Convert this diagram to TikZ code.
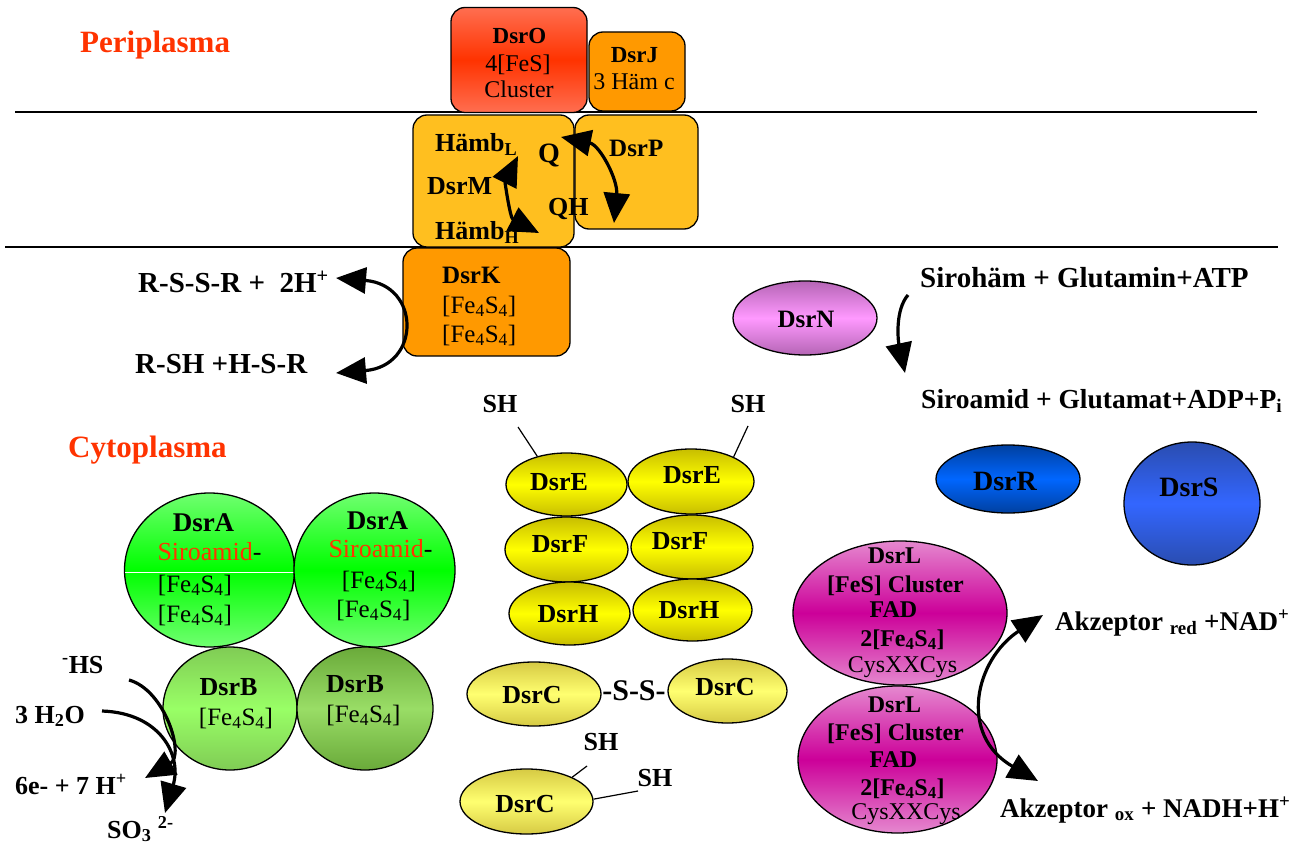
\documentclass[tikz,border=0pt]{standalone}
\usepackage{fontspec}
\setmainfont{Liberation Serif}
\usetikzlibrary{shapes.geometric,arrows.meta}
\definecolor{cred}{HTML}{FF3300}
\definecolor{oLight}{HTML}{FF6E50}
\definecolor{orng}{HTML}{FF9900}
\definecolor{gold}{HTML}{FFBF1F}
\definecolor{violetD}{HTML}{B565B5}
\definecolor{violetL}{HTML}{FF99FF}
\definecolor{yelD}{HTML}{C8BE00}
\definecolor{yelL}{HTML}{FFFF00}
\definecolor{olD}{HTML}{D6CA44}
\definecolor{olL}{HTML}{FFFF70}
\definecolor{blD}{HTML}{0040A0}
\definecolor{blL}{HTML}{0066FF}
\definecolor{bsD}{HTML}{2A4DB0}
\definecolor{bsL}{HTML}{3366FF}
\definecolor{mgD}{HTML}{CC0099}
\definecolor{mgL}{HTML}{E588CF}
\definecolor{grA}{HTML}{00FF00}
\definecolor{grAL}{HTML}{70FF70}
\definecolor{grBa}{HTML}{99FF66}
\definecolor{grBaD}{HTML}{80CC55}
\definecolor{grBb}{HTML}{99DD66}
\definecolor{grBbD}{HTML}{6AAA3A}
\newcommand{\myfs}[1]{\fontsize{#1}{#1}\selectfont}
\tikzset{
  box/.style={draw=black, line width=1.3pt, rounded corners=14pt, inner sep=0pt},
  ell/.style={draw=black, ellipse, line width=1.3pt, inner sep=0pt},
  lab/.style={inner sep=0pt, anchor=base},
  lw/.style={inner sep=0pt, anchor=base west},
  rxone/.style={line width=3.2pt, -{Triangle[length=30pt,width=26pt]}},
  rxtwo/.style={line width=3.2pt, {Triangle[length=30pt,width=26pt]}-{Triangle[length=30pt,width=26pt]}},
  memb/.style={line width=1.5pt},
  thinln/.style={line width=1.2pt},
  bfA/.style={font={\myfs{#1}\bfseries}},
  rgA/.style={font={\myfs{#1}}},
}
\begin{document}
\begin{tikzpicture}[x=1pt,y=-1pt]
\useasboundingbox (0,0) rectangle (1290,845);
\fill[white] (0,0) rectangle (1290,845);

% membranes
\coordinate (mAa) at (15,112); \coordinate (mAb) at (1257,112);
\coordinate (mBa) at (5,247); \coordinate (mBb) at (1278,247);
\draw[memb] (mAa) -- (mAb);
\draw[memb] (mBa) -- (mBb);

% compartment labels
\node[lw, text=cred, bfA=31] (peri) at (80,53) {Periplasma};
\node[lw, text=cred, bfA=31] (cyto) at (68,457) {Cytoplasma};

% membrane complex
\node[box, minimum width=136pt, minimum height=105pt, top color=oLight, bottom color=oLight, middle color=cred] (dsro) at (519,60) {};
\node[box, minimum width=96pt, minimum height=79pt, fill=orng] (dsrj) at (637,71.5) {};
\node[box, minimum width=161pt, minimum height=132pt, fill=gold] (dsrm) at (493.5,181) {};
\node[box, minimum width=123pt, minimum height=114pt, fill=gold] (dsrp) at (636.5,172) {};
\node[box, minimum width=167pt, minimum height=108pt, fill=orng] (dsrk) at (486.5,302) {};

\node[lab, bfA=23] (tOa) at (519.5,44) {DsrO};
\node[lab, rgA=24] (tOb) at (518,72) {4[FeS]};
\node[lab, rgA=24] (tOc) at (519,98) {Cluster};
\node[lab, bfA=23] (tJa) at (634.5,63) {DsrJ};
\node[lab, rgA=24] (tJb) at (634,90) {3 Häm c};
\node[lw, bfA=26] (tMa) at (435,152) {Hämb\textsubscript{L}};
\node[lab, bfA=28] (tQ) at (549,163) {Q};
\node[lw, bfA=26] (tMb) at (427,195) {DsrM};
\node[lw, bfA=26] (tQH) at (548,215) {QH};
\node[lw, bfA=26] (tMc) at (435,240) {Hämb\textsubscript{H}};
\node[lw, bfA=25] (tP) at (609,157) {DsrP};
\node[lw, bfA=25] (tKa) at (442,283) {DsrK};
\node[lw, rgA=25] (tKb) at (442,313) {[Fe\textsubscript{4}S\textsubscript{4}]};
\node[lw, rgA=25] (tKc) at (442,342) {[Fe\textsubscript{4}S\textsubscript{4}]};

\coordinate (ma) at (518,156); \coordinate (mb) at (539,233);
\draw[rxtwo] (ma) .. controls (505,182) and (510,218) .. (mb);
\coordinate (pa) at (561,137); \coordinate (pb) at (614,223);
\draw[rxtwo] (pa) .. controls (600,145) and (618,180) .. (pb);

% thiol reaction
\node[lw, bfA=29] (rssr) at (138,292) {R-S-S-R +\ \ 2H\textsuperscript{+}};
\node[lw, bfA=29] (rsh) at (135,373) {R-SH +H-S-R};
\coordinate (ra) at (336,278); \coordinate (rb) at (336,373);
\draw[rxtwo] (ra) .. controls (421,285) and (421,366) .. (rb);

% DsrN
\node[ell, minimum width=144pt, minimum height=74pt, top color=violetD, bottom color=violetD, middle color=violetL] (dsrn) at (805,318) {};
\node[lab, bfA=25] (tN) at (806,327) {DsrN};
\node[lw, bfA=29] (siroh) at (920,287) {Sirohäm + Glutamin+ATP};
\node[lw, bfA=27.5] (siroa) at (921,408) {Siroamid + Glutamat+ADP+P\textsubscript{i}};
\coordinate (na) at (908,295); \coordinate (nb) at (905,373);
\draw[rxone] (na) .. controls (895,310) and (898,340) .. (nb);

% DsrEFH
\node[ell, minimum width=121pt, minimum height=63pt, top color=yelD, bottom color=yelD, middle color=yelL] (dsreA) at (566.5,484.5) {};
\node[ell, minimum width=126pt, minimum height=65pt, top color=yelD, bottom color=yelD, middle color=yelL] (dsreB) at (691,481.5) {};
\node[ell, minimum width=123pt, minimum height=65pt, top color=yelD, bottom color=yelD, middle color=yelL] (dsrfA) at (566.5,549.5) {};
\node[ell, minimum width=122pt, minimum height=64pt, top color=yelD, bottom color=yelD, middle color=yelL] (dsrfB) at (692,547) {};
\node[ell, minimum width=121pt, minimum height=63pt, top color=yelD, bottom color=yelD, middle color=yelL] (dsrhA) at (569.5,613.5) {};
\node[ell, minimum width=119pt, minimum height=62pt, top color=yelD, bottom color=yelD, middle color=yelL] (dsrhB) at (692.5,610) {};
\node[lab, bfA=26] (tEa) at (559,490) {DsrE};
\node[lab, bfA=26] (tEb) at (692,483) {DsrE};
\node[lab, bfA=26] (tFa) at (560,552) {DsrF};
\node[lab, bfA=26] (tFb) at (680,549) {DsrF};
\node[lab, bfA=26] (tHa) at (568,622) {DsrH};
\node[lab, bfA=26] (tHb) at (689,618) {DsrH};
\node[lab, bfA=26] (shA) at (500,412) {SH};
\node[lab, bfA=26] (shB) at (748,412) {SH};
\coordinate (shAe) at (518,427); \coordinate (shBe) at (748,426);
\draw[thinln] (shAe) -- (dsreA.136);
\draw[thinln] (shBe) -- (dsreB.30);

% DsrC
\node[ell, minimum width=134pt, minimum height=64pt, top color=olD, bottom color=olD, middle color=olL] (dsrcA) at (534,694) {};
\node[ell, minimum width=119pt, minimum height=64pt, top color=olD, bottom color=olD, middle color=olL] (dsrcB) at (727.5,691) {};
\node[ell, minimum width=133pt, minimum height=65pt, top color=olD, bottom color=olD, middle color=olL] (dsrcC) at (526.5,801.5) {};
\node[lab, bfA=26] (tCa) at (532,703) {DsrC};
\node[lab, bfA=30] (tSS) at (634,700) {-S-S-};
\node[lab, bfA=26] (tCb) at (725,695) {DsrC};
\node[lab, bfA=26] (tCc) at (525,812) {DsrC};
\node[lab, bfA=26] (shC) at (601,750) {SH};
\node[lab, bfA=26] (shD) at (655,786) {SH};
\coordinate (shCe) at (587,766); \coordinate (shDe) at (638,791);
\draw[thinln] (dsrcC.28) -- (shCe);
\draw[thinln] (dsrcC.2) -- (shDe);

% DsrR, DsrS
\node[ell, minimum width=144pt, minimum height=68pt, top color=blD, bottom color=blD, middle color=blL] (dsrr) at (1008,479) {};
\node[lab, bfA=28] (tR) at (1005,490) {DsrR};
\node[ell, minimum width=136pt, minimum height=123pt, top color=bsD, bottom color=bsD, middle color=bsL] (dsrs) at (1192,503.5) {};
\node[lab, bfA=28] (tS) at (1189,496) {DsrS};

% DsrL
\node[ell, minimum width=214pt, minimum height=144pt, top color=mgL, bottom color=mgL, middle color=mgD] (dsrlA) at (900,613) {};
\node[ell, minimum width=199pt, minimum height=147pt, top color=mgL, bottom color=mgL, middle color=mgD] (dsrlB) at (897.5,759.5) {};
\node[lab, bfA=24] (tLa1) at (894.5,563) {DsrL};
\node[lab, bfA=24] (tLa2) at (895.5,592) {[FeS] Cluster};
\node[lab, bfA=24] (tLa3) at (893.5,617) {FAD};
\node[lab, bfA=24] (tLa4) at (902.5,646) {2[Fe\textsubscript{4}S\textsubscript{4}]};
\node[lab, rgA=24] (tLa5) at (902.5,672) {CysXXCys};
\node[lab, bfA=24] (tLb1) at (894.5,712) {DsrL};
\node[lab, bfA=24] (tLb2) at (895.5,740) {[FeS] Cluster};
\node[lab, bfA=24] (tLb3) at (893.5,767) {FAD};
\node[lab, bfA=24] (tLb4) at (902.5,795) {2[Fe\textsubscript{4}S\textsubscript{4}]};
\node[lab, rgA=24] (tLb5) at (906,819) {CysXXCys};
\node[lw, bfA=27] (akred) at (1055,630) {Akzeptor \textsubscript{red} +NAD\textsuperscript{+}};
\node[lw, bfA=27] (akox) at (1000,817) {Akzeptor \textsubscript{ox} + NADH+H\textsuperscript{+}};
\coordinate (la) at (1043,615); \coordinate (lb) at (1038,781);
\draw[rxtwo] (la) .. controls (975,660) and (958,735) .. (lb);

% DsrA, DsrB
\node[ell, minimum width=170pt, minimum height=154pt, top color=grAL, bottom color=grAL, middle color=grA] (dsraA) at (209.5,570) {};
\draw[white, line width=1pt] ([xshift=1.5pt,yshift=-2pt]dsraA.west) -- ([xshift=-1.5pt,yshift=-2pt]dsraA.east);
\node[ell, minimum width=161pt, minimum height=154pt, top color=grAL, bottom color=grAL, middle color=grA] (dsraB) at (374.5,570) {};
\node[ell, minimum width=134pt, minimum height=123pt, top color=grBaD, bottom color=grBaD, middle color=grBa] (dsrbA) at (230,708.5) {};
\node[ell, minimum width=136pt, minimum height=123pt, top color=grBbD, bottom color=grBbD, middle color=grBb] (dsrbB) at (365,708.5) {};
\node[lab, bfA=27] (tAa1) at (203.5,531) {DsrA};
\node[lab, rgA=26] (tAa2) at (209.5,560) {\textcolor{cred}{Siroamid}-};
\node[lab, rgA=25] (tAa3) at (195,592) {[Fe\textsubscript{4}S\textsubscript{4}]};
\node[lab, rgA=25] (tAa4) at (195,622) {[Fe\textsubscript{4}S\textsubscript{4}]};
\node[lab, bfA=27] (tAb1) at (377.5,529) {DsrA};
\node[lab, rgA=26] (tAb2) at (380.5,557) {\textcolor{cred}{Siroamid}-};
\node[lab, rgA=25] (tAb3) at (379,588) {[Fe\textsubscript{4}S\textsubscript{4}]};
\node[lab, rgA=25] (tAb4) at (373.5,617) {[Fe\textsubscript{4}S\textsubscript{4}]};
\node[lab, bfA=26] (tBa1) at (228.5,695) {DsrB};
\node[lab, rgA=25] (tBa2) at (236,725) {[Fe\textsubscript{4}S\textsubscript{4}]};
\node[lab, bfA=26] (tBb1) at (355,692) {DsrB};
\node[lab, rgA=25] (tBb2) at (363.5,722) {[Fe\textsubscript{4}S\textsubscript{4}]};

% sulfide oxidation
\node[lw, bfA=26] (hs) at (62,673) {\textsuperscript{-}HS};
\node[lw, bfA=26] (water) at (15,723) {3 H\textsubscript{2}O};
\node[lw, bfA=26] (elec) at (15,794) {6e- + 7 H\textsuperscript{+}};
\node[lw, bfA=26] (sulf) at (107,838) {SO\textsubscript{3} \textsuperscript{2-}};
\coordinate (ha) at (129,680); \coordinate (hb) at (145,778);
\draw[rxone] (ha) .. controls (165,690) and (185,755) .. (hb);
\coordinate (wa) at (102,711); \coordinate (wb) at (165,813);
\draw[rxone] (wa) .. controls (160,713) and (182,755) .. (wb);
\end{tikzpicture}
\end{document}
